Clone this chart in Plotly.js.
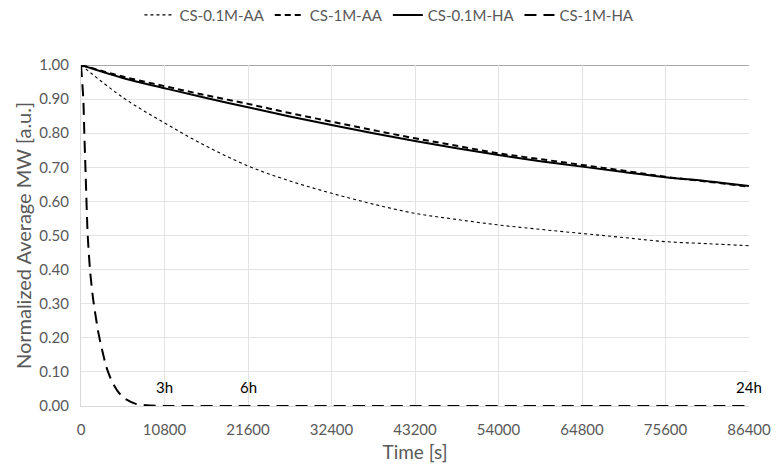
<!DOCTYPE html>
<html>
<head>
<meta charset="utf-8">
<script src="https://cdn.plot.ly/plotly-3.0.1.min.js"></script>
<style>
  html, body { margin: 0; padding: 0; background: #fff; }
  #chart { width: 782px; height: 473px; }
</style>
</head>
<body>
<div id="chart"></div>
<script>
// time points [s] for the slow curves
var time_s = [0, 5400, 10800, 16200, 21600, 27000, 32400, 37800, 43200, 48600, 54000, 59400, 64800, 70200, 75600, 81000, 86400]
var cs01_aa = [1.00, 0.905, 0.830, 0.762, 0.704, 0.660, 0.624, 0.592, 0.565, 0.547, 0.531, 0.518, 0.506, 0.494, 0.482, 0.476, 0.470]
var cs1_aa = [1.00, 0.966, 0.938, 0.911, 0.886, 0.859, 0.834, 0.809, 0.785, 0.763, 0.741, 0.724, 0.707, 0.690, 0.672, 0.658, 0.643]
var cs01_ha = [1.00, 0.962, 0.932, 0.903, 0.876, 0.849, 0.824, 0.800, 0.777, 0.756, 0.736, 0.718, 0.702, 0.686, 0.671, 0.659, 0.645]

// fast decay curve
var time_fast = [0, 300, 430, 600, 866, 1200, 1590, 2290, 3270, 4000, 4790, 5650, 7000, 8500, 10800, 21600, 43200, 64800, 86400]
var cs1_ha = [1.00, 0.90, 0.80, 0.68, 0.50, 0.39, 0.31, 0.21, 0.115, 0.072, 0.042, 0.022, 0.007, 0.002, 0, 0, 0, 0, 0]

// hour markers
var hour_x = [10800, 21600, 86400]
var hour_labels = ['3h', '6h', '24h']

var font = 'Lato, "Liberation Sans", sans-serif'
var gray = '#595959'

var data = [
  { x: time_s, y: cs01_aa, name: 'CS-0.1M-AA', mode: 'lines', line: { color: '#000', width: 1.1, dash: 'dot', shape: 'spline' } },
  { x: time_s, y: cs1_aa, name: 'CS-1M-AA', mode: 'lines', line: { color: '#000', width: 2, dash: '6px,4px', shape: 'spline' } },
  { x: time_s, y: cs01_ha, name: 'CS-0.1M-HA', mode: 'lines', line: { color: '#000', width: 2, shape: 'spline' } },
  { x: time_fast, y: cs1_ha, name: 'CS-1M-HA', mode: 'lines', line: { color: '#000', width: 2, dash: '12px,7px', shape: 'spline', smoothing: 0.6 } }
]

var annotations = hour_x.map(function (x, i) {
  return {
    x: x, y: 0, xref: 'x', yref: 'y',
    text: hour_labels[i], showarrow: false,
    yanchor: 'bottom', yshift: 8,
    font: { family: font, size: 15, color: '#000' }
  }
})

var layout = {
  width: 782,
  height: 473,
  margin: { l: 81, r: 33, t: 65, b: 67 },
  paper_bgcolor: '#fff',
  plot_bgcolor: '#fff',
  font: { family: font, size: 15, color: gray },
  showlegend: true,
  legend: {
    orientation: 'h',
    xref: 'container', yref: 'container',
    x: 0.498, xanchor: 'center',
    y: 0.968, yanchor: 'middle',
    font: { family: font, size: 15, color: gray },
    itemwidth: 30
  },
  xaxis: {
    title: { text: 'Time [s]', font: { family: font, size: 19, color: gray }, standoff: 8 },
    range: [0, 86400],
    tickmode: 'array',
    tickvals: [0, 10800, 21600, 32400, 43200, 54000, 64800, 75600, 86400],
    ticktext: ['0', '10800', '21600', '32400', '43200', '54000', '64800', '75600', '86400'],
    showgrid: true,
    gridcolor: '#e3e3e3',
    zeroline: false,
    showline: true,
    linecolor: '#d9d9d9',
    linewidth: 1,
    ticks: '',
    ticklabelstandoff: 10,
    tickfont: { family: font, size: 15, color: gray }
  },
  yaxis: {
    title: { text: 'Normalized Average MW [a.u.]', font: { family: font, size: 20, color: gray }, standoff: 2 },
    range: [0, 1],
    dtick: 0.1,
    tickformat: '.2f',
    showgrid: true,
    gridcolor: '#e3e3e3',
    zeroline: false,
    showline: true,
    linecolor: '#d9d9d9',
    ticks: '',
    ticklabelstandoff: 8,
    tickfont: { family: font, size: 15, color: gray }
  },
  shapes: [
    { type: 'line', xref: 'paper', yref: 'y', x0: 0, x1: 1, y0: 1, y1: 1, line: { color: '#a6a6a6', width: 2 }, layer: 'below' }
  ],
  annotations: annotations
}

Plotly.newPlot('chart', data, layout, { staticPlot: true })
</script>
</body>
</html>
